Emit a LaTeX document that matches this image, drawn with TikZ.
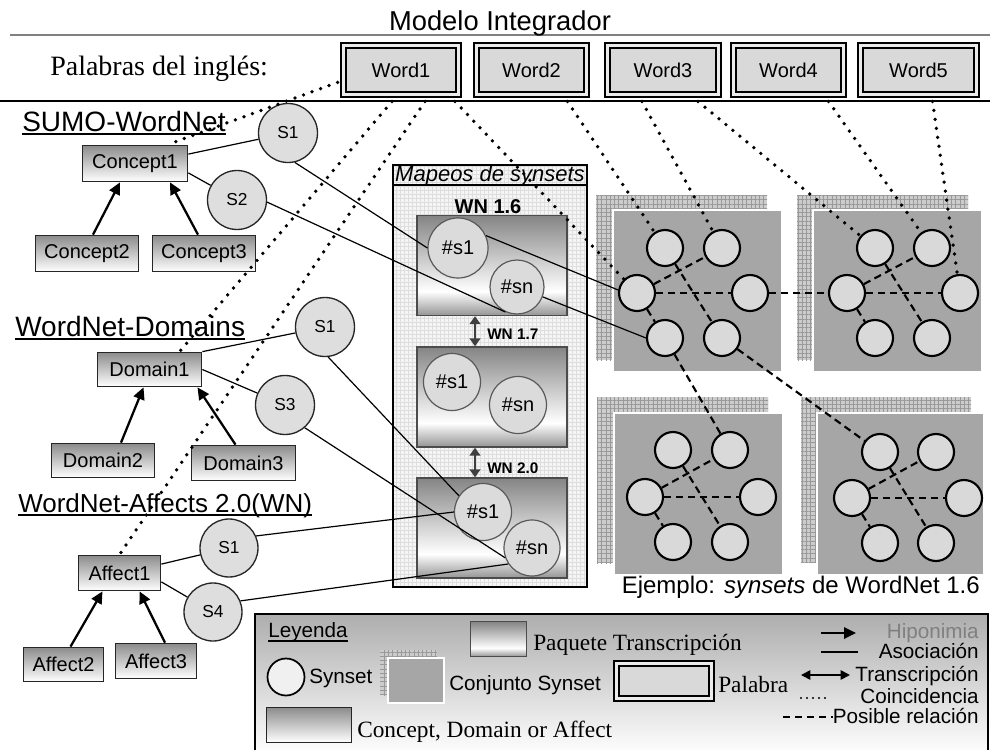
\documentclass[tikz,border=0pt]{standalone}
\usepackage{fontspec}
\setmainfont{Liberation Serif}
\setsansfont{Liberation Sans}
\usetikzlibrary{arrows.meta,calc,patterns.meta}
\newlength\px \setlength\px{0.75pt}
\newcommand\fsz[1]{\fontsize{#1}{#1}\selectfont}
\pgfdeclareverticalshading{pkgshade}{100bp}{color(0bp)=(black!42); color(25bp)=(black!42); color(37bp)=(white); color(75bp)=(black!48); color(100bp)=(black!48)}
\begin{document}
\begin{tikzpicture}[x=0.75pt, y=-0.75pt, font=\sffamily,
  word/.style={draw=black, line width=1.4pt, double=black!8, double distance=2.2pt, fill=black!15, minimum width=115\px, minimum height=49\px, inner sep=0pt, font=\sffamily\fsz{15}},
  concept/.style={draw=black!85, line width=1.3pt, top color=black!45, bottom color=white, inner sep=0pt, font=\sffamily\fsz{15}},
  syn/.style={circle, draw=black!85, line width=1pt, fill=black!13, minimum size=59\px, inner sep=0pt, font=\sffamily\fsz{13}},
  hashc/.style={circle, draw=black!65, line width=0.9pt, fill=black!14, inner sep=0pt, font=\sffamily\fsz{15}, minimum size=57\px},
  sc/.style={circle, draw=black, line width=1.6pt, fill=black!15, minimum size=36\px, inner sep=0pt},
  pkg/.style={draw=black!70, line width=1pt, shade, shading=pkgshade, inner sep=0pt, minimum width=150\px, minimum height=100\px},
  gridh/.style={pattern={Lines[angle=0, distance=3.2pt, line width=0.45pt]}, pattern color=black!40},
  gridv/.style={pattern={Lines[angle=90, distance=3.2pt, line width=0.45pt]}, pattern color=black!40},
  mgridh/.style={pattern={Lines[angle=0, distance=3pt, line width=0.35pt]}, pattern color=black!13},
  mgridv/.style={pattern={Lines[angle=90, distance=3pt, line width=0.35pt]}, pattern color=black!13},
  setfg/.style={fill=black!35, draw=white, line width=1.5pt},
  assoc/.style={line width=0.9pt, black},
  hypo/.style={line width=1.7pt, -{Triangle[length=9pt,width=8.5pt]}},
  coin/.style={line width=2.8pt, line cap=round, dash pattern=on 0pt off 6.8pt},
  posrel/.style={line width=1.6pt, dash pattern=on 5.5pt off 3.5pt},
  trans/.style={line width=2.2pt, draw=black!75, {Triangle[length=6pt,width=8pt]}-{Triangle[length=6pt,width=8pt]}},
  lbl/.style={inner sep=0pt}
]
\useasboundingbox (0,0) rectangle (990,750);

% top rules
\draw[black!50, line width=0.8pt] (10,35) -- (990,35);
\draw[black, line width=0.8pt] (0,101) -- (990,101);
\node[lbl, anchor=base, font=\sffamily\fsz{20.5}] (title) at (500,30) {Modelo Integrador};
\node[lbl, anchor=base west, font=\rmfamily\fsz{21}] (pal) at (50,75) {Palabras del inglés:};

% words
\node[word, minimum width=115\px] (w1) at (401,70) {Word1};
\node[word, minimum width=110\px] (w2) at (531.5,70) {Word2};
\node[word, minimum width=111\px] (w3) at (663,70) {Word3};
\node[word, minimum width=110\px] (w4) at (788.5,70) {Word4};
\node[word, minimum width=116\px] (w5) at (918.5,70) {Word5};

% headings
\node[lbl, anchor=base west, font=\sffamily\fsz{21}] (hsumo) at (22,131) {SUMO-WordNet};
\draw[line width=1.1pt] ($(hsumo.base west)+(0,3)$) -- ($(hsumo.base east)+(0,3)$);
\node[lbl, anchor=base west, font=\sffamily\fsz{21}] (hdom) at (15,336) {WordNet-Domains};
\draw[line width=1.1pt] ($(hdom.base west)+(0,3)$) -- ($(hdom.base east)+(0,3)$);
\node[lbl, anchor=base west, font=\sffamily\fsz{19.5}] (haff) at (18,512) {WordNet-Affects 2.0(WN)};
\draw[line width=1.1pt] ($(haff.base west)+(0,3)$) -- ($(haff.base east)+(0,3)$);

% Mapeos box
\fill[black!4] (393,165) rectangle (587,587);
\fill[mgridh] (393,165) rectangle (587,587);
\fill[mgridv] (393,165) rectangle (587,587);
\draw[line width=1.2pt] (393,165) rectangle (587,587);
\draw[line width=0.8pt] (393,185) -- (587,185);
\node[lbl, anchor=base, font=\sffamily\itshape\fsz{16.5}] (mtitle) at (490,181) {Mapeos de synsets};
\node[lbl, anchor=base, font=\sffamily\bfseries\fsz{15}] (l16) at (488,213) {WN 1.6};

\node[pkg] (p16) at (492,265.5) {};
\node[pkg] (p17) at (492,397) {};
\node[pkg] (p20) at (492,528) {};
\node[hashc, minimum size=60\px] (h16a) at (458,248) {\#s1};
\node[hashc, minimum size=54\px] (h16b) at (517,287) {\#sn};
\node[hashc] (h17a) at (452,382) {\#s1};
\node[hashc] (h17b) at (518,405) {\#sn};
\node[hashc] (h20a) at (483,512) {\#s1};
\node[hashc, minimum size=56\px] (h20b) at (532,548) {\#sn};
\draw[trans] ($(p16.south)+(-17,0)$) -- ($(p17.north)+(-17,0)$);
\draw[trans] ($(p17.south)+(-17,0)$) -- ($(p20.north)+(-17,0)$);
\node[lbl, anchor=base west, font=\sffamily\bfseries\fsz{11.5}] (l17) at (487,339) {WN 1.7};
\node[lbl, anchor=base west, font=\sffamily\bfseries\fsz{11.5}] (l20) at (487,473) {WN 2.0};

% synset sets
\foreach \xa/\ya/\xb/\yb/\xc/\yc/\xd/\yd in {596/195/767/360/613/210/782/372, 797/195/968/360/813/210/982/372, 597/397/768/563/614/413/783/575, 801/397/971/562/817/413/984/575}{
  \fill[black!20] (\xa,\ya) rectangle (\xb,\yb);
  \fill[gridh] (\xa,\ya) rectangle (\xb,\yb);
  \fill[gridv] (\xa,\ya) rectangle (\xb,\yb);
  \draw[setfg] (\xc,\yc) rectangle (\xd,\yd);
}

\node[sc] (m1tl) at (665,248) {}; \node[sc] (m1tr) at (722,248) {};
\node[sc] (m1ml) at (637,293) {}; \node[sc] (m1mr) at (750,293) {};
\node[sc] (m1bl) at (665,338) {}; \node[sc] (m1br) at (722,338) {};
\node[sc] (m2tl) at (875,248) {}; \node[sc] (m2tr) at (932,248) {};
\node[sc] (m2ml) at (847,293) {}; \node[sc] (m2mr) at (960,293) {};
\node[sc] (m2bl) at (875,338) {}; \node[sc] (m2br) at (932,338) {};
\node[sc] (m3tl) at (673,450) {}; \node[sc] (m3tr) at (730,450) {};
\node[sc] (m3ml) at (645,497) {}; \node[sc] (m3mr) at (758,497) {};
\node[sc] (m3bl) at (673,542) {}; \node[sc] (m3br) at (730,542) {};
\node[sc] (m4tl) at (880,452) {}; \node[sc] (m4tr) at (936,452) {};
\node[sc] (m4ml) at (852,498) {}; \node[sc] (m4mr) at (964,498) {};
\node[sc] (m4bl) at (880,543) {}; \node[sc] (m4br) at (936,543) {};

\foreach \k in {1,2,3,4}{
  \draw[posrel] (m\k ml) -- (m\k tr);
  \draw[posrel] (m\k ml) -- (m\k mr);
  \draw[posrel] (m\k ml) -- (m\k bl);
  \draw[posrel] (m\k tl) -- (m\k br);
}
\draw[posrel] (m1mr) -- (m2ml);
\draw[posrel] (m1bl) -- (m3tr);
\draw[posrel] (m1br) -- (m4tl);

\node[lbl, anchor=base east, font=\sffamily\fsz{18}] (ej) at (980,593) {Ejemplo: \textit{synsets} de WordNet 1.6};

% concepts, domains, affects
\node[concept, minimum width=105\px, minimum height=36\px] (c1) at (135,163.5) {Concept1};
\node[concept, minimum width=103\px, minimum height=36\px] (c2) at (87,253.5) {Concept2};
\node[concept, minimum width=103\px, minimum height=36\px] (c3) at (204,253.5) {Concept3};
\node[concept, minimum width=104\px, minimum height=34\px] (d1) at (149.5,369.5) {Domain1};
\node[concept, minimum width=103\px, minimum height=34\px] (d2) at (103,460.5) {Domain2};
\node[concept, minimum width=104\px, minimum height=35\px] (d3) at (243.5,463) {Domain3};
\node[concept, minimum width=82\px, minimum height=35\px] (a1) at (119.5,573) {Affect1};
\node[concept, minimum width=80\px, minimum height=34\px] (a2) at (63.5,664.5) {Affect2};
\node[concept, minimum width=81\px, minimum height=35\px] (a3) at (156,661) {Affect3};

\node[syn] (s1a) at (288,133) {S1};
\node[syn] (s2a) at (237,200) {S2};
\node[syn] (sd1) at (325,327) {S1};
\node[syn] (sd3) at (285,405) {S3};
\node[syn, minimum size=58\px] (sf1) at (229,548) {S1};
\node[syn, minimum size=58\px] (sf4) at (213,612) {S4};

% hyponymy
\draw[hypo] ($(c2.north)+(6,0)$) -- ($(c1.south)+(-15,0)$);
\draw[hypo] ($(c3.north)+(-6,0)$) -- ($(c1.south)+(35,0)$);
\draw[hypo] ($(d2.north)+(18,0)$) -- ($(d1.south)+(-6,0)$);
\draw[hypo] ($(d3.north)+(-8,0)$) -- ($(d1.south)+(48,0)$);
\draw[hypo] ($(a2.north)+(7,0)$) -- ($(a1.south)+(-17,0)$);
\draw[hypo] ($(a3.north)+(9,0)$) -- ($(a1.south)+(20,0)$);

% associations
\draw[assoc] (c1.10) -- (s1a);
\draw[assoc] (c1.-10) -- (s2a);
\draw[assoc] (s1a.-77) -- (h16a.west);
\draw[assoc] (h16a.24) -- (m1ml.171);
\draw[assoc] (s2a.-4) -- (h16b.-115);
\draw[assoc] (h16b.-21) -- (m1bl.west);
\draw[assoc] (d1.north east) -- (sd1);
\draw[assoc] (d1.east) -- (sd3);
\draw[assoc] (sd1.-84) -- (h20a.146);
\draw[assoc] (sd3.-49) -- (h20b.-160);
\draw[assoc] (a1.12) -- (sf1);
\draw[assoc] (a1.-12) -- (sf4);
\draw[assoc] (sf1.24) -- (h20a.west);
\draw[assoc] (sf4.22) -- (h20b.-146);

% coincidences
\draw[coin] ($(w1.192)+(-5,0)$) -- (c1.30);
\draw[coin] ($(w1.south)+(-9,6)$) -- ($(d1.north)+(30,0)$);
\draw[coin] ($(w1.south)+(24,6)$) -- (a1.north);
\draw[coin] ($(w1.south)+(54,6)$) -- (m1ml);
\draw[coin] ($(w2.south)+(36,6)$) -- (m1tl);
\draw[coin] ($(w3.south)+(-21,6)$) -- (m1tr);
\draw[coin] ($(w3.south)+(35,6)$) -- (m2tl);
\draw[coin] ($(w4.south)+(40,6)$) -- (m2tr);
\draw[coin] ($(w5.south)+(14,6)$) -- (m2mr);

% legend
\draw[top color=black!32, bottom color=white, draw=black, line width=1.2pt] (255,614) rectangle (988,755);
\node[lbl, anchor=base west, font=\sffamily\fsz{15.5}] (ley) at (268,637) {Leyenda};
\draw[line width=1pt] ($(ley.base west)+(0,4)$) -- ($(ley.base east)+(0,4)$);
\node[pkg, minimum width=56\px, minimum height=35\px] (lgpkg) at (498.5,639) {};
\node[lbl, anchor=base west, font=\rmfamily\fsz{17.5}] (lgpkgt) at (533,650) {Paquete Transcripción};
\node[circle, draw, line width=1.3pt, fill=black!6, minimum size=37\px, inner sep=0pt] (lgsyn) at (286,677) {};
\node[lbl, anchor=base west, font=\sffamily\fsz{15.5}] (lgsynt) at (309,683) {Synset};
\fill[black!20] (380,650) rectangle (437,695);
\fill[gridh] (380,650) rectangle (437,695);
\fill[gridv] (380,650) rectangle (437,695);
\draw[setfg] (388,658) rectangle (444,703);
\node[lbl, anchor=base west, font=\sffamily\fsz{15.5}] (lgset) at (449,690) {Conjunto Synset};
\node[word, minimum width=95\px, minimum height=35\px] (lgword) at (664,681) {};
\node[lbl, anchor=base west, font=\rmfamily\fsz{17.5}] (lgwordt) at (718,692) {Palabra};
\node[concept, minimum width=85\px, minimum height=35\px] (lgcon) at (309,725) {};
\node[lbl, anchor=base west, font=\rmfamily\fsz{17.5}] (lgcont) at (357,737) {Concept, Domain or Affect};

\coordinate (hy1) at (821,633); \coordinate (hy2) at (856,633);
\draw[hypo] (hy1) -- (hy2);
\node[lbl, anchor=base east, font=\sffamily\fsz{15.5}, text=black!50] (lghy) at (979,638) {Hiponimia};
\coordinate (as1) at (821,652); \coordinate (as2) at (858,652);
\draw[assoc] (as1) -- (as2);
\node[lbl, anchor=base east, font=\sffamily\fsz{15.5}] (lgas) at (979,658) {Asociación};
\coordinate (tr1) at (801,675); \coordinate (tr2) at (850,675);
\draw[line width=1.3pt, {Triangle[length=7pt,width=7pt]}-{Triangle[length=7pt,width=7pt]}] (tr1) -- (tr2);
\node[lbl, anchor=base east, font=\sffamily\fsz{15.5}] (lgtr) at (979,681) {Transcripción};
\coordinate (co1) at (801,698); \coordinate (co2) at (830,698);
\draw[line width=1.8pt, line cap=round, dash pattern=on 0pt off 4.5pt] (co1) -- (co2);
\node[lbl, anchor=base east, font=\sffamily\fsz{15.5}] (lgco) at (979,703) {Coincidencia};
\coordinate (pr1) at (783,717); \coordinate (pr2) at (833,717);
\draw[posrel] (pr1) -- (pr2);
\node[lbl, anchor=base east, font=\sffamily\fsz{15.5}] (lgpr) at (979,723) {Posible relación};
\end{tikzpicture}
\end{document}
